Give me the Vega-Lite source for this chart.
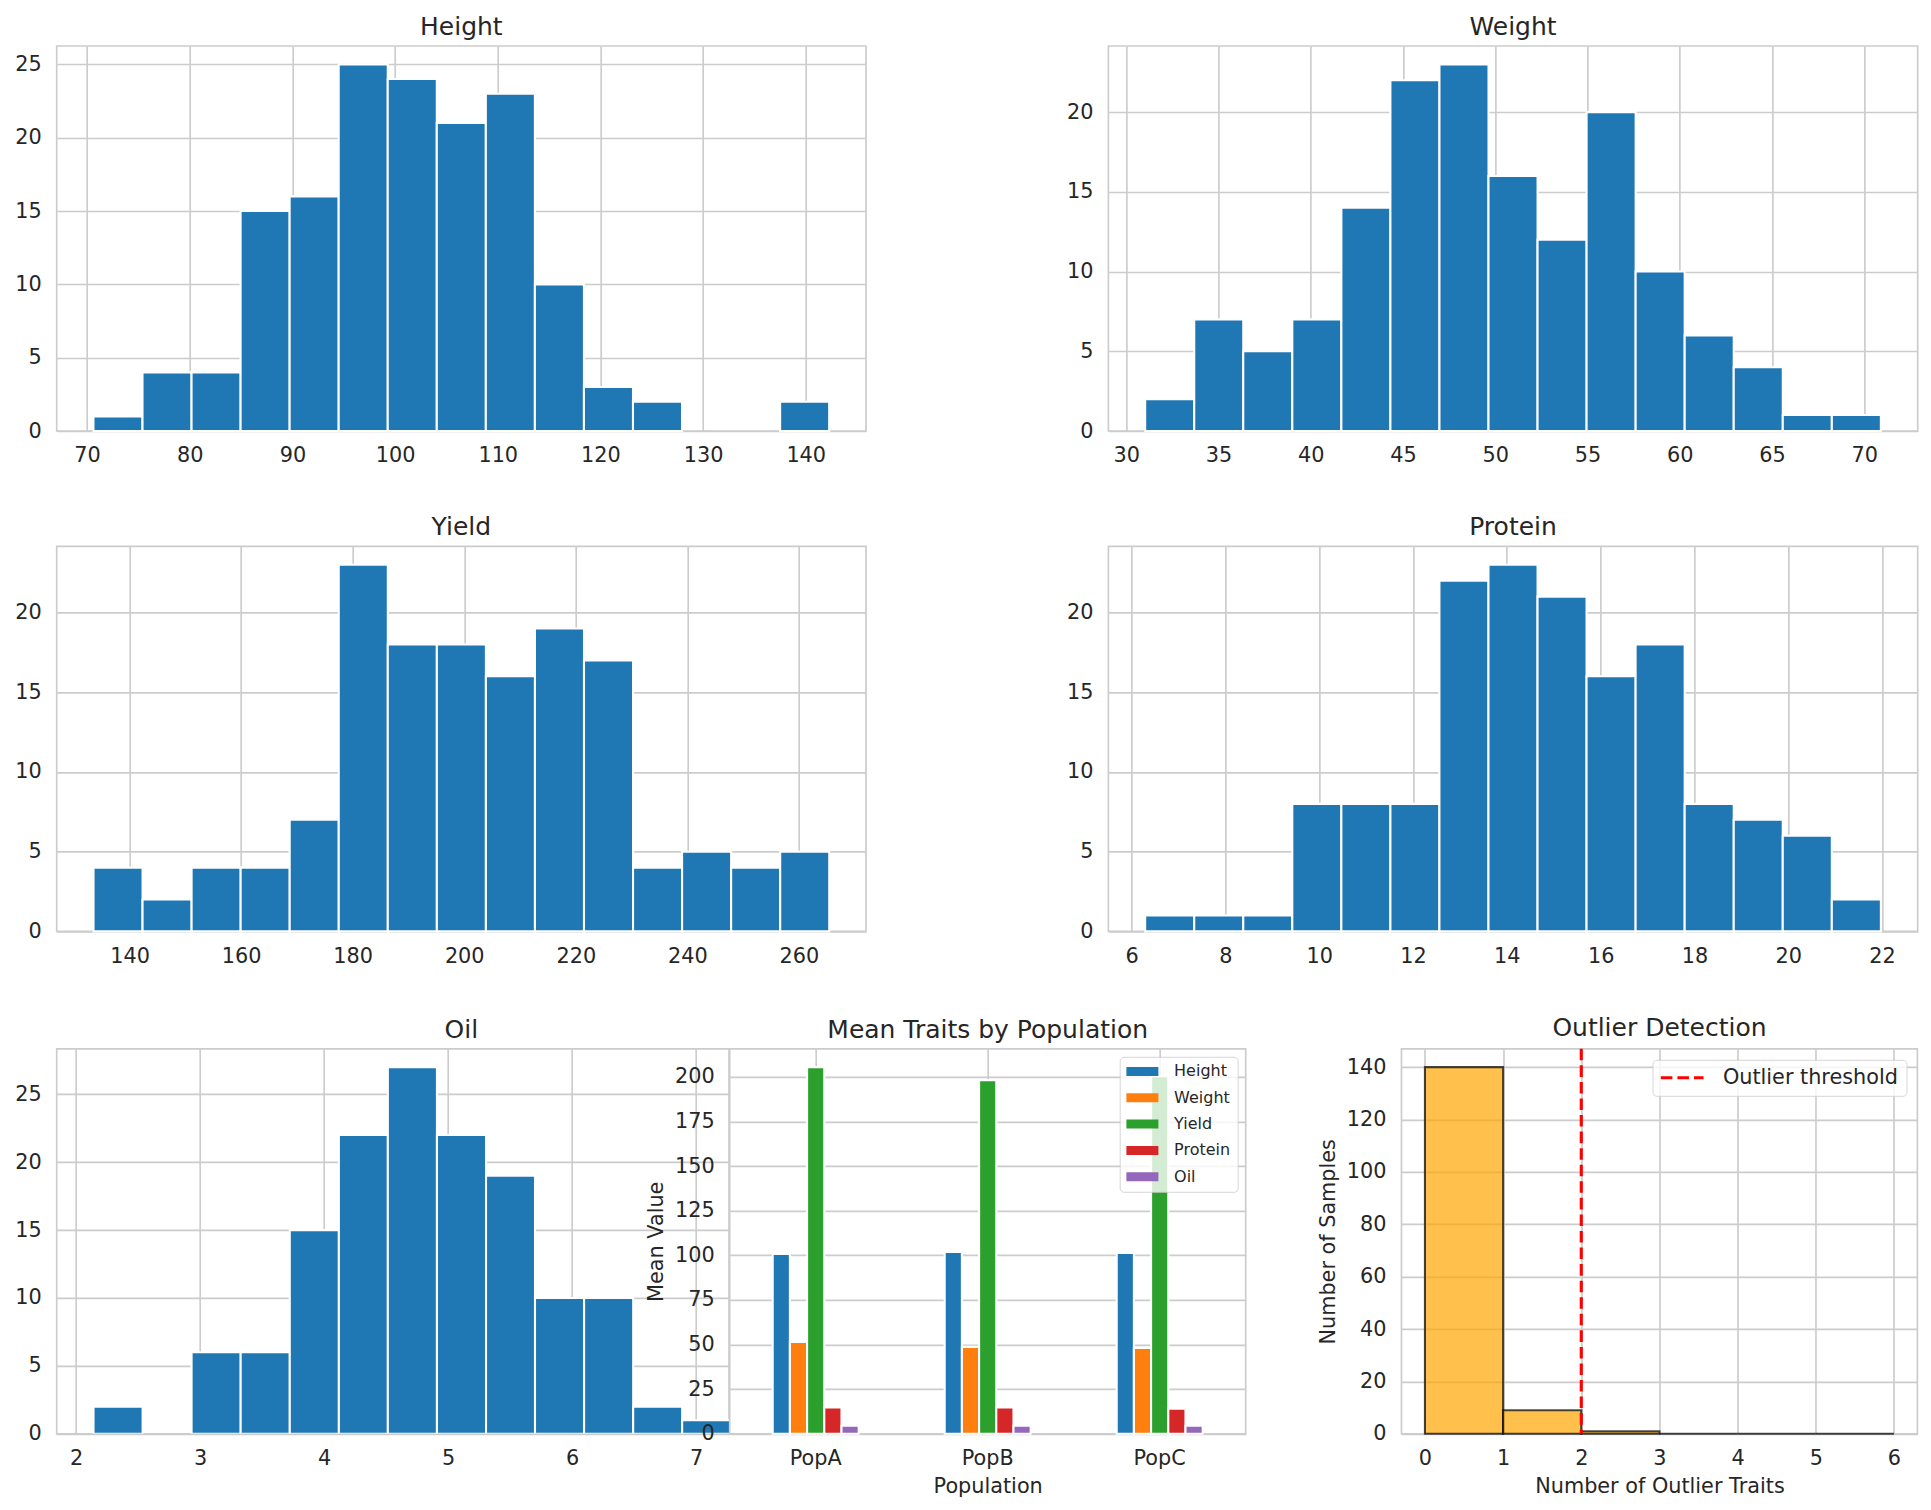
{
  "$schema": "https://vega.github.io/schema/vega-lite/v6.json",
  "background": "white",
  "padding": {"left": 13.7, "top": 14, "right": 0, "bottom": 0},
  "config": {
    "font": "DejaVu Sans",
    "view": {"stroke": "#cccccc", "strokeWidth": 1.67, "fill": "white"},
    "axis": {
      "grid": true, "gridColor": "#cccccc", "gridWidth": 1.67,
      "domain": false, "ticks": false,
      "labelFont": "DejaVu Sans", "labelFontSize": 20.8, "labelColor": "#262626",
      "labelFlush": false, "labelOverlap": false,
      "titleFont": "DejaVu Sans", "titleFontSize": 20.8, "titleFontWeight": "normal", "titleColor": "#262626",
      "titlePadding": 8
    },
    "axisX": {"labelPadding": 14.7},
    "axisY": {"labelPadding": 15.5},
    "title": {"font": "DejaVu Sans", "fontSize": 25, "fontWeight": "normal", "color": "#262626", "baseline": "alphabetic", "offset": 6},
    "legend": {"labelFont": "DejaVu Sans", "labelColor": "#262626", "labelLimit": 0}
  },
  "datasets": {
    "height": [
      {"bin_start": 70.620, "bin_end": 75.398, "count": 1},
      {"bin_start": 75.398, "bin_end": 80.175, "count": 4},
      {"bin_start": 80.175, "bin_end": 84.953, "count": 4},
      {"bin_start": 84.953, "bin_end": 89.730, "count": 15},
      {"bin_start": 89.730, "bin_end": 94.508, "count": 16},
      {"bin_start": 94.508, "bin_end": 99.286, "count": 25},
      {"bin_start": 99.286, "bin_end": 104.063, "count": 24},
      {"bin_start": 104.063, "bin_end": 108.841, "count": 21},
      {"bin_start": 108.841, "bin_end": 113.618, "count": 23},
      {"bin_start": 113.618, "bin_end": 118.396, "count": 10},
      {"bin_start": 118.396, "bin_end": 123.174, "count": 3},
      {"bin_start": 123.174, "bin_end": 127.951, "count": 2},
      {"bin_start": 137.506, "bin_end": 142.284, "count": 2}
    ],
    "weight": [
      {"bin_start": 31.024, "bin_end": 33.683, "count": 2},
      {"bin_start": 33.683, "bin_end": 36.341, "count": 7},
      {"bin_start": 36.341, "bin_end": 39.000, "count": 5},
      {"bin_start": 39.000, "bin_end": 41.659, "count": 7},
      {"bin_start": 41.659, "bin_end": 44.318, "count": 14},
      {"bin_start": 44.318, "bin_end": 46.976, "count": 22},
      {"bin_start": 46.976, "bin_end": 49.635, "count": 23},
      {"bin_start": 49.635, "bin_end": 52.294, "count": 16},
      {"bin_start": 52.294, "bin_end": 54.952, "count": 12},
      {"bin_start": 54.952, "bin_end": 57.611, "count": 20},
      {"bin_start": 57.611, "bin_end": 60.270, "count": 10},
      {"bin_start": 60.270, "bin_end": 62.928, "count": 6},
      {"bin_start": 62.928, "bin_end": 65.587, "count": 4},
      {"bin_start": 65.587, "bin_end": 68.246, "count": 1},
      {"bin_start": 68.246, "bin_end": 70.904, "count": 1}
    ],
    "yield": [
      {"bin_start": 133.530, "bin_end": 142.325, "count": 4},
      {"bin_start": 142.325, "bin_end": 151.119, "count": 2},
      {"bin_start": 151.119, "bin_end": 159.914, "count": 4},
      {"bin_start": 159.914, "bin_end": 168.709, "count": 4},
      {"bin_start": 168.709, "bin_end": 177.504, "count": 7},
      {"bin_start": 177.504, "bin_end": 186.298, "count": 23},
      {"bin_start": 186.298, "bin_end": 195.093, "count": 18},
      {"bin_start": 195.093, "bin_end": 203.888, "count": 18},
      {"bin_start": 203.888, "bin_end": 212.682, "count": 16},
      {"bin_start": 212.682, "bin_end": 221.477, "count": 19},
      {"bin_start": 221.477, "bin_end": 230.272, "count": 17},
      {"bin_start": 230.272, "bin_end": 239.066, "count": 4},
      {"bin_start": 239.066, "bin_end": 247.861, "count": 5},
      {"bin_start": 247.861, "bin_end": 256.656, "count": 4},
      {"bin_start": 256.656, "bin_end": 265.450, "count": 5}
    ],
    "protein": [
      {"bin_start": 6.289, "bin_end": 7.335, "count": 1},
      {"bin_start": 7.335, "bin_end": 8.381, "count": 1},
      {"bin_start": 8.381, "bin_end": 9.426, "count": 1},
      {"bin_start": 9.426, "bin_end": 10.472, "count": 8},
      {"bin_start": 10.472, "bin_end": 11.518, "count": 8},
      {"bin_start": 11.518, "bin_end": 12.563, "count": 8},
      {"bin_start": 12.563, "bin_end": 13.609, "count": 22},
      {"bin_start": 13.609, "bin_end": 14.655, "count": 23},
      {"bin_start": 14.655, "bin_end": 15.700, "count": 21},
      {"bin_start": 15.700, "bin_end": 16.746, "count": 16},
      {"bin_start": 16.746, "bin_end": 17.792, "count": 18},
      {"bin_start": 17.792, "bin_end": 18.838, "count": 8},
      {"bin_start": 18.838, "bin_end": 19.883, "count": 7},
      {"bin_start": 19.883, "bin_end": 20.929, "count": 6},
      {"bin_start": 20.929, "bin_end": 21.975, "count": 2}
    ],
    "oil": [
      {"bin_start": 2.140, "bin_end": 2.536, "count": 2},
      {"bin_start": 2.931, "bin_end": 3.327, "count": 6},
      {"bin_start": 3.327, "bin_end": 3.723, "count": 6},
      {"bin_start": 3.723, "bin_end": 4.119, "count": 15},
      {"bin_start": 4.119, "bin_end": 4.514, "count": 22},
      {"bin_start": 4.514, "bin_end": 4.910, "count": 27},
      {"bin_start": 4.910, "bin_end": 5.306, "count": 22},
      {"bin_start": 5.306, "bin_end": 5.701, "count": 19},
      {"bin_start": 5.701, "bin_end": 6.097, "count": 10},
      {"bin_start": 6.097, "bin_end": 6.493, "count": 10},
      {"bin_start": 6.493, "bin_end": 6.888, "count": 2},
      {"bin_start": 6.888, "bin_end": 7.284, "count": 1}
    ],
    "means": [
      {"population": "PopA", "trait": "Height", "mean": 100.7},
      {"population": "PopA", "trait": "Weight", "mean": 51.5},
      {"population": "PopA", "trait": "Yield", "mean": 205.4},
      {"population": "PopA", "trait": "Protein", "mean": 14.7},
      {"population": "PopA", "trait": "Oil", "mean": 4.5},
      {"population": "PopB", "trait": "Height", "mean": 101.8},
      {"population": "PopB", "trait": "Weight", "mean": 48.7},
      {"population": "PopB", "trait": "Yield", "mean": 198.1},
      {"population": "PopB", "trait": "Protein", "mean": 14.7},
      {"population": "PopB", "trait": "Oil", "mean": 4.5},
      {"population": "PopC", "trait": "Height", "mean": 101.3},
      {"population": "PopC", "trait": "Weight", "mean": 48.1},
      {"population": "PopC", "trait": "Yield", "mean": 200.3},
      {"population": "PopC", "trait": "Protein", "mean": 14.1},
      {"population": "PopC", "trait": "Oil", "mean": 4.5}
    ],
    "outliers": [
      {"bin_start": 0, "bin_end": 1, "count": 140},
      {"bin_start": 1, "bin_end": 2, "count": 9},
      {"bin_start": 2, "bin_end": 3, "count": 1},
      {"bin_start": 3, "bin_end": 4, "count": 0},
      {"bin_start": 4, "bin_end": 5, "count": 0},
      {"bin_start": 5, "bin_end": 6, "count": 0}
    ],
    "threshold": [
      {"value": 2, "label": "Outlier threshold"}
    ]
  },
  "vconcat": [
    {
      "hconcat": [
        {
          "title": "Height",
          "width": 809.3, "height": 385,
          "data": {"name": "height"},
          "mark": {"type": "rect", "color": "#1f77b4", "stroke": "white", "strokeWidth": 2.08},
          "encoding": {
            "x": {"field": "bin_start", "type": "quantitative", "scale": {"domain": [67.04, 145.87], "nice": false, "zero": false}, "axis": {"title": null, "values": [70, 80, 90, 100, 110, 120, 130, 140]}},
            "x2": {"field": "bin_end"},
            "y": {"field": "count", "type": "quantitative", "scale": {"domain": [0, 26.25], "nice": false}, "axis": {"title": null, "values": [0, 5, 10, 15, 20, 25]}},
            "y2": {"datum": 0}
          }
        },
        {
          "title": "Weight",
          "width": 809.3, "height": 385,
          "data": {"name": "weight"},
          "mark": {"type": "rect", "color": "#1f77b4", "stroke": "white", "strokeWidth": 2.08},
          "encoding": {
            "x": {"field": "bin_start", "type": "quantitative", "scale": {"domain": [29.03, 72.90], "nice": false, "zero": false}, "axis": {"title": null, "values": [30, 35, 40, 45, 50, 55, 60, 65, 70]}},
            "x2": {"field": "bin_end"},
            "y": {"field": "count", "type": "quantitative", "scale": {"domain": [0, 24.15], "nice": false}, "axis": {"title": null, "values": [0, 5, 10, 15, 20]}},
            "y2": {"datum": 0}
          }
        }
      ],
      "spacing": 241.7,
      "bounds": "flush"
    },
    {
      "hconcat": [
        {
          "title": "Yield",
          "width": 809.3, "height": 385,
          "data": {"name": "yield"},
          "mark": {"type": "rect", "color": "#1f77b4", "stroke": "white", "strokeWidth": 2.08},
          "encoding": {
            "x": {"field": "bin_start", "type": "quantitative", "scale": {"domain": [126.93, 272.04], "nice": false, "zero": false}, "axis": {"title": null, "values": [140, 160, 180, 200, 220, 240, 260]}},
            "x2": {"field": "bin_end"},
            "y": {"field": "count", "type": "quantitative", "scale": {"domain": [0, 24.15], "nice": false}, "axis": {"title": null, "values": [0, 5, 10, 15, 20]}},
            "y2": {"datum": 0}
          }
        },
        {
          "title": "Protein",
          "width": 809.3, "height": 385,
          "data": {"name": "protein"},
          "mark": {"type": "rect", "color": "#1f77b4", "stroke": "white", "strokeWidth": 2.08},
          "encoding": {
            "x": {"field": "bin_start", "type": "quantitative", "scale": {"domain": [5.505, 22.76], "nice": false, "zero": false}, "axis": {"title": null, "values": [6, 8, 10, 12, 14, 16, 18, 20, 22]}},
            "x2": {"field": "bin_end"},
            "y": {"field": "count", "type": "quantitative", "scale": {"domain": [0, 24.15], "nice": false}, "axis": {"title": null, "values": [0, 5, 10, 15, 20]}},
            "y2": {"datum": 0}
          }
        }
      ],
      "spacing": 241.7,
      "bounds": "flush"
    },
    {
      "hconcat": [
        {
          "title": {"text": "Oil", "dx": 68.5},
          "width": 672.3, "height": 385,
          "data": {"name": "oil"},
          "mark": {"type": "rect", "color": "#1f77b4", "stroke": "white", "strokeWidth": 2.08, "clip": true},
          "encoding": {
            "x": {"field": "bin_start", "type": "quantitative", "scale": {"domain": [1.843, 7.2657], "nice": false, "zero": false}, "axis": {"title": null, "values": [2, 3, 4, 5, 6, 7, 8]}},
            "x2": {"field": "bin_end"},
            "y": {"field": "count", "type": "quantitative", "scale": {"domain": [0, 28.35], "nice": false}, "axis": {"title": null, "values": [0, 5, 10, 15, 20, 25]}},
            "y2": {"datum": 0}
          }
        },
        {
          "hconcat": [
            {
              "title": "Mean Traits by Population",
              "width": 516, "height": 385,
              "data": {"name": "means"},
              "mark": {"type": "bar", "stroke": "white", "strokeWidth": 2.08},
              "encoding": {
                "x": {"field": "population", "type": "nominal", "sort": ["PopA", "PopB", "PopC"], "scale": {"paddingInner": 0.5, "paddingOuter": 0.25}, "axis": {"title": "Population", "labelAngle": 0, "grid": true, "bandPosition": 0.5}},
                "xOffset": {"field": "trait", "type": "nominal", "scale": {"domain": ["Height", "Weight", "Yield", "Protein", "Oil"], "paddingInner": 0, "paddingOuter": 0}},
                "y": {"field": "mean", "type": "quantitative", "scale": {"domain": [0, 215.67], "nice": false}, "axis": {"title": "Mean Value", "values": [0, 25, 50, 75, 100, 125, 150, 175, 200]}},
                "color": {
                  "field": "trait", "type": "nominal",
                  "scale": {"domain": ["Height", "Weight", "Yield", "Protein", "Oil"], "range": ["#1f77b4", "#ff7f0e", "#2ca02c", "#d62728", "#9467bd"]},
                  "legend": {
                    "title": null, "orient": "top-right", "offset": 8,
                    "labelFontSize": 16,
                    "symbolType": "M-2,-0.5625L2,-0.5625L2,0.5625L-2,0.5625Z",
                    "symbolSize": 256, "symbolStrokeWidth": 0, "symbolOffset": 8,
                    "labelOffset": 23.7, "rowPadding": 10.3, "padding": 6.7,
                    "strokeColor": "rgba(204,204,204,0.8)", "fillColor": "rgba(255,255,255,0.8)",
                    "cornerRadius": 4
                  }
                }
              }
            },
            {
              "title": "Outlier Detection",
              "width": 515.9, "height": 385,
              "layer": [
                {
                  "data": {"name": "outliers"},
                  "mark": {"type": "rect", "fill": "orange", "fillOpacity": 0.7, "stroke": "black", "strokeOpacity": 0.7, "strokeWidth": 2.08},
                  "encoding": {
                    "x": {"field": "bin_start", "type": "quantitative", "scale": {"domain": [-0.3, 6.3], "nice": false, "zero": false}, "axis": {"title": "Number of Outlier Traits", "values": [0, 1, 2, 3, 4, 5, 6], "format": "d"}},
                    "x2": {"field": "bin_end"},
                    "y": {"field": "count", "type": "quantitative", "scale": {"domain": [0, 147], "nice": false}, "axis": {"title": "Number of Samples", "values": [0, 20, 40, 60, 80, 100, 120, 140]}},
                    "y2": {"datum": 0}
                  }
                },
                {
                  "data": {"name": "threshold"},
                  "mark": {"type": "rule", "strokeWidth": 3.125, "strokeDash": [11.56, 5]},
                  "encoding": {
                    "x": {"field": "value", "type": "quantitative"},
                    "color": {
                      "field": "label", "type": "nominal",
                      "scale": {"range": ["red"]},
                      "legend": {
                        "title": null, "orient": "top-right", "offset": 11,
                        "labelFontSize": 20.8,
                        "symbolType": "M-2.67,0L2.67,0",
                        "symbolSize": 256, "symbolStrokeWidth": 3.125, "symbolDash": [11.56, 5],
                        "symbolOffset": 11.8, "labelOffset": 30.3, "padding": 7.5,
                        "strokeColor": "rgba(204,204,204,0.8)", "fillColor": "rgba(255,255,255,0.8)",
                        "cornerRadius": 4
                      }
                    }
                  }
                }
              ]
            }
          ],
          "spacing": 155.8,
          "bounds": "flush",
          "resolve": {"scale": {"color": "independent"}, "legend": {"color": "independent"}}
        }
      ],
      "spacing": 0,
      "bounds": "flush",
      "resolve": {"scale": {"color": "independent"}, "legend": {"color": "independent"}}
    }
  ],
  "spacing": 47.4,
  "bounds": "full",
  "resolve": {"scale": {"color": "independent"}, "legend": {"color": "independent"}}
}
